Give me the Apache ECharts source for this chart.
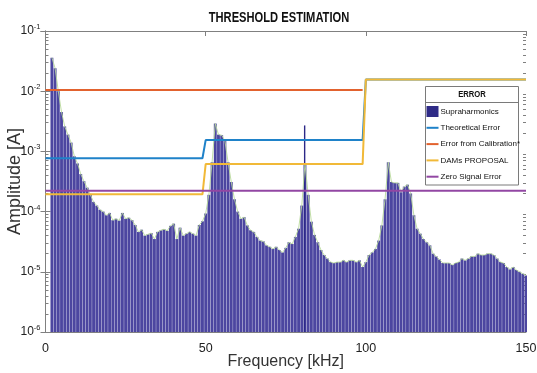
<!DOCTYPE html>
<html><head><meta charset="utf-8">
<script src="https://cdn.jsdelivr.net/npm/echarts@6/dist/echarts.min.js"></script>
<style>html,body{margin:0;padding:0;background:#fff}#c{width:537px;height:373px}</style>
</head><body><div id="c"></div>
<script>
// ---- DATA ----
var freq = [
  2,3,4,5,6,7,8,9,10,11,
  12,13,14,15,16,17,18,19,20,21,
  22,23,24,25,26,27,28,29,30,31,
  32,33,34,35,36,37,38,39,40,41,
  42,43,44,45,46,47,48,49,50,51,
  52,53,54,55,56,57,58,59,60,61,
  62,63,64,65,66,67,68,69,70,71,
  72,73,74,75,76,77,78,79,80,81,
  82,83,84,85,86,87,88,89,90,91,
  92,93,94,95,96,97,98,99,100,101,
  102,103,104,105,106,107,108,109,110,111,
  112,113,114,115,116,117,118,119,120,121,
  122,123,124,125,126,127,128,129,130,131,
  132,133,134,135,136,137,138,139,140,141,
  142,143,144,145,146,147,148,149,150
];
var amp = [
  3.6e-2,2.4e-2,1.0e-2,4.5e-3,2.6e-3,1.9e-3,1.4e-3,8.3e-4,6.3e-4,4.2e-4,
  3.2e-4,2.5e-4,1.9e-4,1.45e-4,1.26e-4,1.07e-4,1.0e-4,8.7e-5,9.5e-5,7.2e-5,
  7.6e-5,7.1e-5,9.5e-5,7.6e-5,7.9e-5,7.2e-5,6.0e-5,4.6e-5,5.0e-5,4.0e-5,
  4.2e-5,4.4e-5,3.5e-5,4.6e-5,4.9e-5,5.1e-5,4.8e-5,5.8e-5,6.3e-5,3.5e-5,
  5.4e-5,4.0e-5,4.3e-5,4.6e-5,4.3e-5,4.0e-5,6.0e-5,6.9e-5,9.3e-5,1.9e-4,
  6.6e-4,2.9e-3,1.9e-3,1.86e-3,1.5e-3,6.6e-4,3.1e-4,1.6e-4,1.0e-4,7.6e-5,
  8.1e-5,5.9e-5,4.9e-5,4.6e-5,3.8e-5,3.3e-5,3.2e-5,2.75e-5,2.6e-5,2.4e-5,
  2.6e-5,2.3e-5,2.1e-5,2.5e-5,3.1e-5,2.9e-5,3.8e-5,5.2e-5,1.26e-4,6.3e-4,
  1.9e-4,6.8e-5,4.1e-5,3.1e-5,2.3e-5,1.9e-5,1.66e-5,1.45e-5,1.4e-5,1.45e-5,
  1.45e-5,1.55e-5,1.45e-5,1.55e-5,1.55e-5,1.45e-5,1.55e-5,1.2e-5,1.45e-5,1.9e-5,
  2.1e-5,2.4e-5,3.3e-5,5.9e-5,1.6e-4,6.6e-4,3.1e-4,3.0e-4,3.0e-4,2.1e-4,
  2.6e-4,2.8e-4,2.0e-4,8.7e-5,5.2e-5,4.3e-5,3.5e-5,3.1e-5,2.75e-5,2.0e-5,
  1.8e-5,1.6e-5,1.4e-5,1.4e-5,1.4e-5,1.3e-5,1.4e-5,1.45e-5,1.66e-5,1.55e-5,
  1.66e-5,1.8e-5,1.8e-5,2.0e-5,1.9e-5,1.9e-5,2.0e-5,2.0e-5,1.9e-5,1.66e-5,
  1.45e-5,1.4e-5,1.2e-5,1.1e-5,1.2e-5,1.07e-5,1.0e-5,9.3e-6,8.7e-6
];
var spikeFreq = [80.9];
var spikeAmp = [2.7e-3];

var theoFreq = [0, 49, 50, 99, 100, 150];
var theoVal  = [7.7e-4, 7.7e-4, 1.54e-3, 1.54e-3, 1.56e-2, 1.56e-2];
var calFreq  = [0, 99];
var calVal   = [1.05e-2, 1.05e-2];
var damsFreq = [0, 49, 50, 99, 100, 150];
var damsVal  = [1.94e-4, 1.94e-4, 6.15e-4, 6.15e-4, 1.56e-2, 1.56e-2];
var zeroFreq = [0, 150];
var zeroVal  = [2.23e-4, 2.23e-4];

var xTicks = [0, 50, 100, 150];
var yDecades = [1e-6, 1e-5, 1e-4, 1e-3, 1e-2, 1e-1];
var minorMult = [2, 3, 4, 5, 6, 7, 8, 9];

var seriesNames = ['Supraharmonics', 'Theoretical Error', 'Error from Calibration*', 'DAMs PROPOSAL', 'Zero Signal Error'];
var seriesColors = ['#2f2b87', '#1f82c9', '#e2622e', '#f1b938', '#9247a3'];
var titleText = 'THRESHOLD ESTIMATION';
var legendTitle = 'ERROR';
var xName = 'Frequency [kHz]';
var yName = 'Amplitude [A]';

// ---- BUILD ----
function pairs(xs, ys) { return xs.map(function (x, i) { return [x, ys[i]]; }); }
var barData = pairs(freq, amp);
var spikeData = pairs(spikeFreq, spikeAmp);
var minorTicks = [];
yDecades.slice(0, -1).forEach(function (d) {
  minorMult.forEach(function (m) { minorTicks.push(parseFloat((d * m).toPrecision(3))); });
});

var FONT = "'Liberation Sans',Arial,Helvetica,sans-serif";
var yMin = yDecades[0], yMax = yDecades[yDecades.length - 1];
var binWidth = 0.9;
var axisColor = '#808080';
var textColor = '#222';
var LINE_ICON = 'path://M0,0L24,0L24,4L0,4Z';

var L = 45.5, R = 526, T = 31, B = 332;

function yAxisDef(pos, withLabels, minor) {
  return {
    type: 'log', logBase: 10, min: yMin, max: yMax, position: pos,
    axisLine: { show: !minor, lineStyle: { color: axisColor, width: 1 } },
    axisTick: minor
      ? { show: true, inside: true, length: 3, customValues: minorTicks, lineStyle: { color: axisColor } }
      : { show: true, inside: true, length: 5, lineStyle: { color: axisColor } },
    axisLabel: withLabels ? {
      show: true, margin: 5,
      formatter: function (v) { return '{b|10}{s|' + Math.round(Math.log10(v)) + '}'; },
      rich: {
        b: { fontFamily: FONT, fontSize: 12, color: textColor },
        s: { fontFamily: FONT, fontSize: 7.5, color: textColor, padding: [0, 0, 8, 0] }
      }
    } : { show: false },
    splitLine: { show: false },
    minorTick: { show: false },
    name: withLabels ? yName : '',
    nameLocation: 'middle', nameGap: 21, nameMoveOverlap: false,
    nameTextStyle: { fontFamily: FONT, fontSize: 18, color: '#333' }
  };
}

var chart = echarts.init(document.getElementById('c'), null, { renderer: 'canvas' });
chart.setOption({
  animation: false,
  backgroundColor: '#fff',
  grid: { left: L, top: T, width: R - L, height: B - T, outerBoundsMode: 'none', show: false },
  xAxis: [
    {
      type: 'value', min: 0, max: 150, interval: 50, position: 'bottom',
      axisLine: { show: true, onZero: false, lineStyle: { color: axisColor } },
      axisTick: { show: true, inside: true, length: 5, lineStyle: { color: axisColor } },
      axisLabel: { show: true, margin: 10, fontFamily: FONT, fontSize: 12.5, color: textColor,
        customValues: xTicks },
      splitLine: { show: false },
      name: xName, nameLocation: 'middle', nameGap: 22, nameMoveOverlap: false,
      nameTextStyle: { fontFamily: FONT, fontSize: 16, color: '#333' }
    },
    {
      type: 'value', min: 0, max: 150, interval: 50, position: 'top',
      axisLine: { show: true, onZero: false, lineStyle: { color: axisColor } },
      axisTick: { show: true, inside: true, length: 5, lineStyle: { color: axisColor } },
      axisLabel: { show: false }, splitLine: { show: false }
    }
  ],
  yAxis: [
    yAxisDef('left', true, false),
    yAxisDef('right', false, false),
    yAxisDef('left', false, true),
    yAxisDef('right', false, true)
  ],
  legend: {
    orient: 'vertical', left: 426.5, top: 106, itemWidth: 12, itemHeight: 11, itemGap: 5.3,
    padding: 0, symbolKeepAspect: true,
    textStyle: { fontFamily: FONT, fontSize: 8, color: '#111', lineHeight: 11, padding: [0, 0, 0, -3] },
    data: [
      { name: seriesNames[0], icon: 'rect' },
      { name: seriesNames[1], icon: LINE_ICON },
      { name: seriesNames[2], icon: LINE_ICON },
      { name: seriesNames[3], icon: LINE_ICON },
      { name: seriesNames[4], icon: LINE_ICON }
    ],
    z: 10
  },
  graphic: [
    { type: 'text', x: 279, y: 18, z: 10, scaleX: 0.72,
      style: { text: titleText, fontFamily: FONT, fontSize: 15.5, fontWeight: 'bold', fill: '#111', align: 'center', verticalAlign: 'middle' } },
    { type: 'rect', z: 5, shape: { x: 425.5, y: 86.5, width: 93, height: 98.5 },
      style: { fill: '#fff', stroke: '#7a7a7a', lineWidth: 1 } },
    { type: 'line', z: 6, shape: { x1: 425.5, y1: 102.5, x2: 518.5, y2: 102.5 },
      style: { stroke: '#7a7a7a', lineWidth: 1 } },
    { type: 'text', x: 472, y: 95, z: 6, scaleX: 0.85,
      style: { text: legendTitle, fontFamily: FONT, fontSize: 9, fontWeight: 'bold', fill: '#111', align: 'center', verticalAlign: 'middle' } }
  ],
  series: [
    {
      name: seriesNames[0], type: 'custom', data: barData, clip: true, z: 2,
      itemStyle: { color: seriesColors[0] },
      encode: { x: 0, y: 1 },
      renderItem: function (params, api) {
        var f = api.value(0), a = api.value(1);
        var p0 = api.coord([f - binWidth / 2, a]);
        var p1 = api.coord([f + binWidth / 2, yMin]);
        return { type: 'rect', shape: { x: p0[0], y: p0[1], width: p1[0] - p0[0], height: p1[1] - p0[1] },
          style: { fill: '#4c46a0' } };
      }
    },
    {
      name: 'spike', type: 'custom', data: spikeData, clip: true, z: 2, silent: true,
      encode: { x: 0, y: 1 },
      renderItem: function (params, api) {
        var p0 = api.coord([api.value(0), api.value(1)]);
        var p1 = api.coord([api.value(0), yMin]);
        return { type: 'rect', shape: { x: p0[0] - 0.7, y: p0[1], width: 1.4, height: p1[1] - p0[1] },
          style: { fill: '#2c2888' } };
      }
    },
    {
      name: 'envelope', type: 'line', data: barData, symbol: 'none', silent: true, z: 3,
      lineStyle: { color: '#b9d99c', width: 0.9 }
    },
    { name: seriesNames[1], type: 'line', data: pairs(theoFreq, theoVal), symbol: 'none', z: 4,
      lineStyle: { color: seriesColors[1], width: 2 }, itemStyle: { color: seriesColors[1] } },
    { name: seriesNames[2], type: 'line', data: pairs(calFreq, calVal), symbol: 'none', z: 4,
      lineStyle: { color: seriesColors[2], width: 2 }, itemStyle: { color: seriesColors[2] } },
    { name: seriesNames[3], type: 'line', data: pairs(damsFreq, damsVal), symbol: 'none', z: 4,
      lineStyle: { color: seriesColors[3], width: 2 }, itemStyle: { color: seriesColors[3] } },
    { name: seriesNames[4], type: 'line', data: pairs(zeroFreq, zeroVal), symbol: 'none', z: 4,
      lineStyle: { color: seriesColors[4], width: 2 }, itemStyle: { color: seriesColors[4] } }
  ]
});
</script>
</body></html>
